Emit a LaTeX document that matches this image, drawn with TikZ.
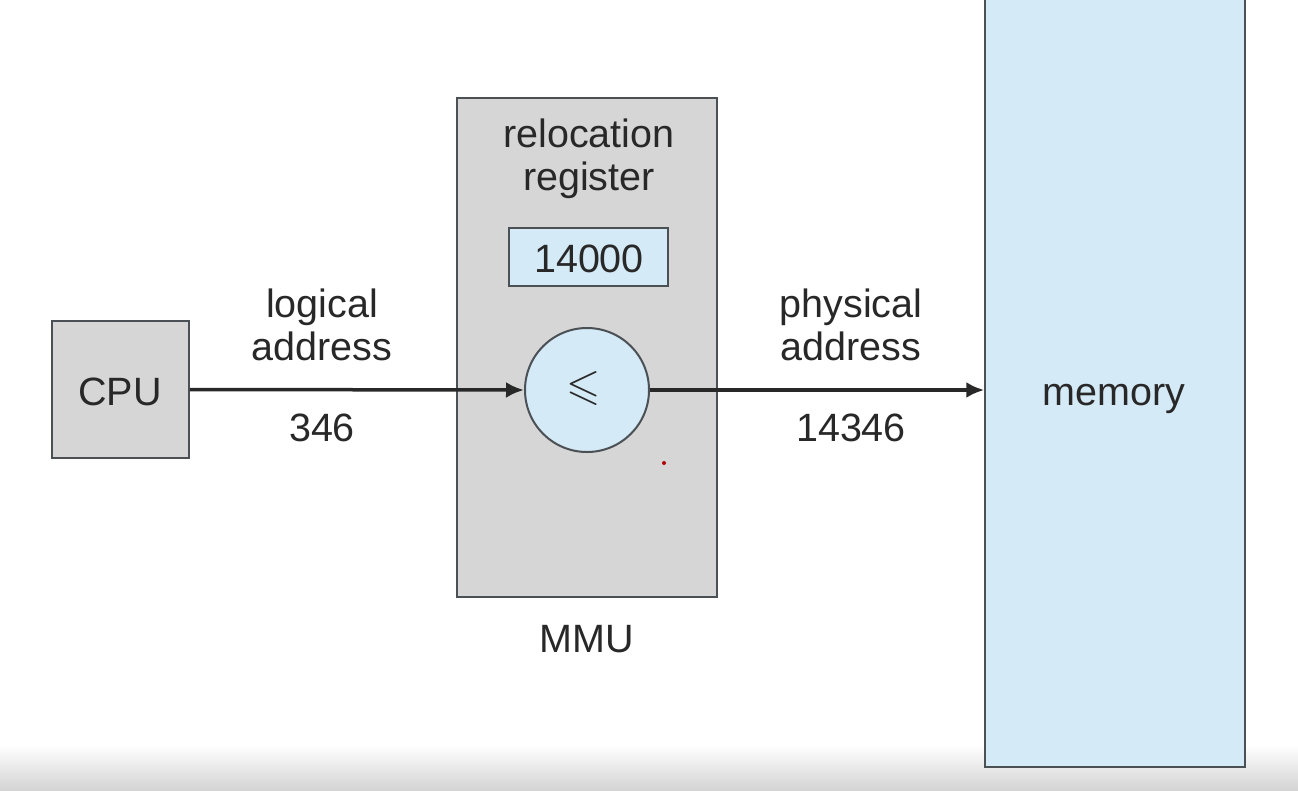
\documentclass[tikz,border=0pt]{standalone}
\usepackage{fontspec}
\usepackage{amssymb}
\setmainfont{Liberation Sans}
\usetikzlibrary{arrows.meta}
\definecolor{boxgray}{RGB}{214,214,214}
\definecolor{lblue}{RGB}{212,234,246}
\definecolor{ink}{RGB}{40,40,40}
\definecolor{edge}{RGB}{75,80,85}
\tikzset{
  txt/.style={font=\fontsize{39.5}{43}\selectfont, text=ink, inner sep=0pt, align=center},
  gbox/.style={draw=edge, line width=1.5pt, fill=boxgray},
  bbox/.style={draw=edge, line width=1.5pt, fill=lblue},
  arr/.style={draw=ink, line width=3.5pt, -{Latex[length=18pt,width=16pt]}}
}
\begin{document}
\begin{tikzpicture}[x=1pt,y=-1pt]
\useasboundingbox (0,0) rectangle (1298,790);
\clip (0,0) rectangle (1298,790);
\fill[white] (0,0) rectangle (1298,790);
\shade[top color=white, bottom color=black!17] (0,745) rectangle (1298,790);
% memory
\node[bbox, minimum width=260pt, minimum height=780pt, inner sep=0pt] (mem) at (1115,377) {};
\node[txt, anchor=base] (memt) at (1114,405) {memory};
% CPU
\node[gbox, minimum width=137pt, minimum height=137pt, inner sep=0pt] (cpu) at (120.5,389.5) {};
\node[txt, anchor=base] (cput) at (120,405) {CPU};
% MMU
\node[gbox, minimum width=260pt, minimum height=499pt, inner sep=0pt] (mmu) at (587,347.5) {};
\node[txt, anchor=base] (mmut) at (587,652) {MMU};
\node[txt, anchor=base] (reloc) at (589,190) {relocation\\register};
\node[bbox, minimum width=159pt, minimum height=58pt, inner sep=0pt] (reg) at (588.5,257) {};
\node[txt, anchor=base] (regt) at (589,272) {14000};
\node[bbox, line width=2pt, circle, minimum size=124pt, inner sep=0pt] (add) at (587,390) {};
\node[font=\fontsize{44}{46}\selectfont, text=ink, inner sep=0pt] (addt) at (584,388) {$\leqslant$};
% arrows
\draw[arr] (cpu.east) -- (add.west);
\draw[arr] (add.east) -- (mem.west |- add.east);
% labels
\node[txt, anchor=base] (logl) at (322,360) {logical\\address};
\node[txt, anchor=base] (logv) at (322,441) {346};
\node[txt, anchor=base] (phyl) at (851,360) {physical\\address};
\node[txt, anchor=base] (phyv) at (851,441) {14346};
% small dot
\fill[red!70!black] (664,463) circle (2pt);
\end{tikzpicture}
\end{document}
